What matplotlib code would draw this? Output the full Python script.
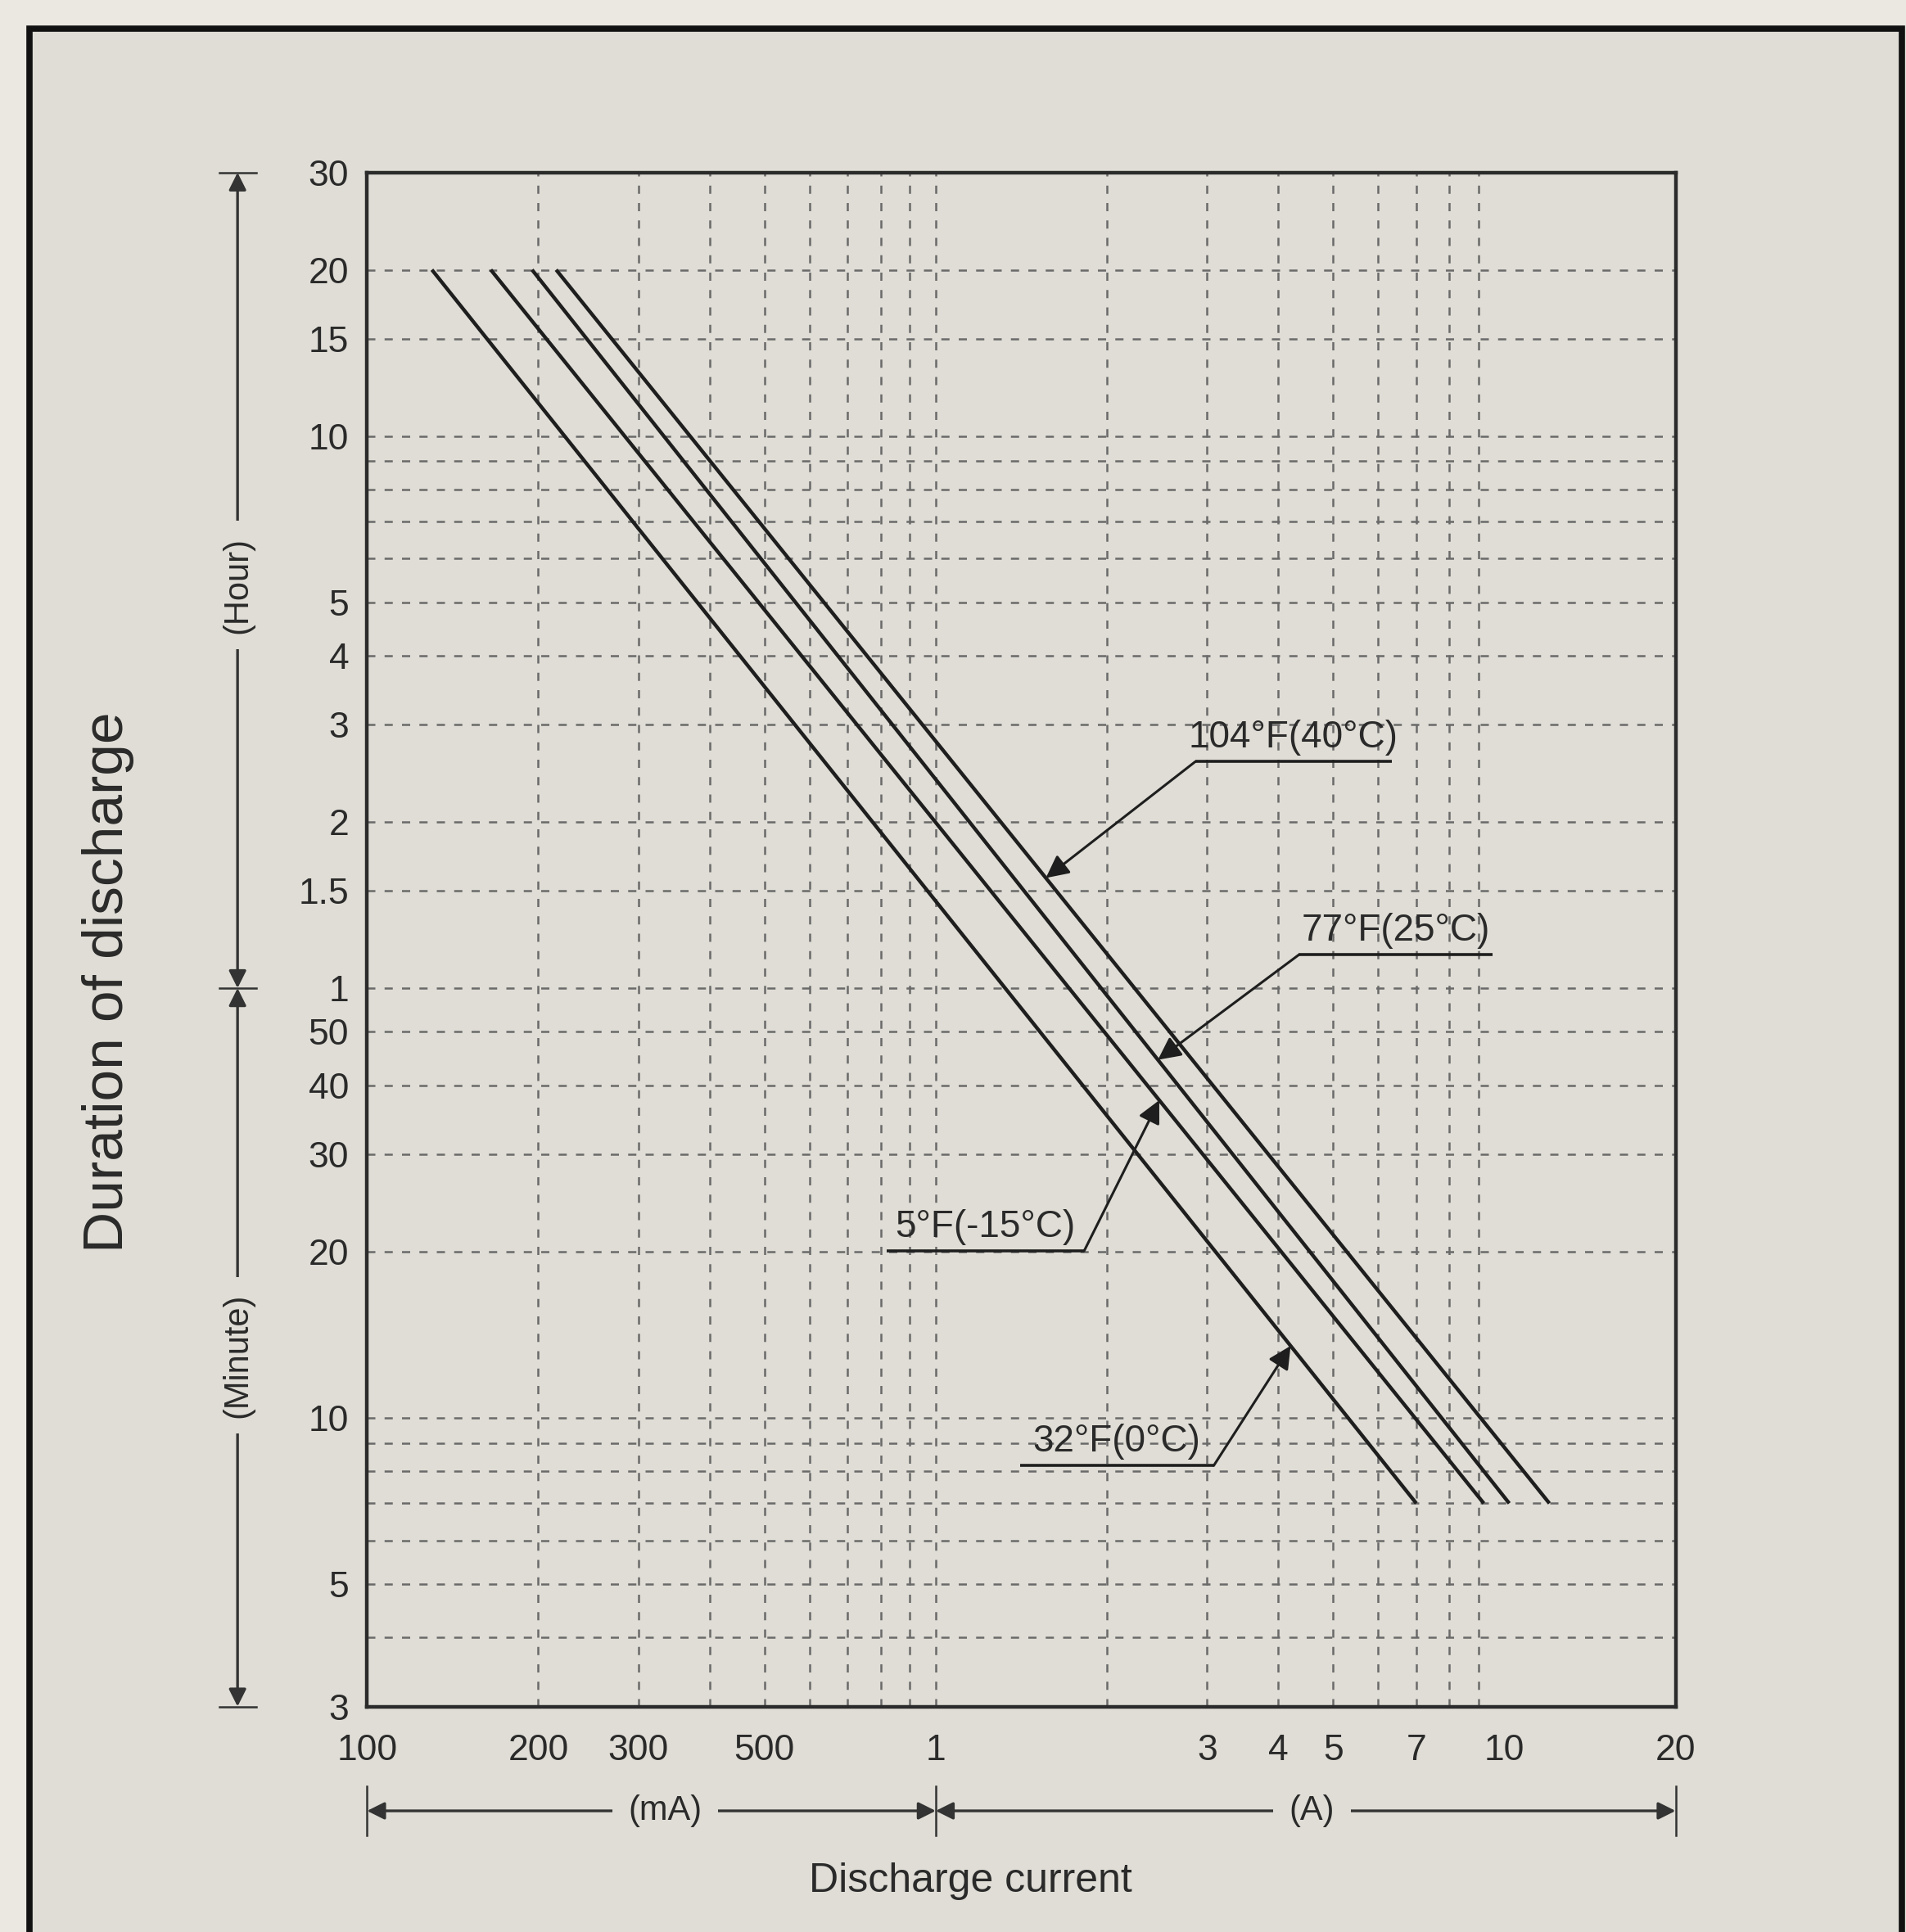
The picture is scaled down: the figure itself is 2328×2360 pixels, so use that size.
import numpy as np
import matplotlib
matplotlib.use("Agg")
import matplotlib.pyplot as plt
from matplotlib import font_manager
from matplotlib.ticker import FixedLocator, NullFormatter
from matplotlib.transforms import blended_transform_factory
from matplotlib.patches import Rectangle

# ---------------- data ----------------
series_labels = ["32°F(0°C)", "5°F(-15°C)", "77°F(25°C)", "104°F(40°C)"]
current_start_A = [0.130, 0.165, 0.195, 0.215]   # at 20 h
current_end_A = [7.0, 9.2, 10.2, 12.0]           # at 7 min
duration_start_min = [1200, 1200, 1200, 1200]
duration_end_min = [7, 7, 7, 7]

y_tick_values_min = [1800, 1200, 900, 600, 300, 240, 180, 120, 90, 60,
                     50, 40, 30, 20, 10, 5, 3]
y_tick_labels = ["30", "20", "15", "10", "5", "4", "3", "2", "1.5", "1",
                 "50", "40", "30", "20", "10", "5", "3"]
y_grid_min = [1200, 900, 600, 540, 480, 420, 360, 300, 240, 180, 120, 90,
              60, 50, 40, 30, 20, 10, 9, 8, 7, 6, 5, 4]

x_tick_values_A = [0.1, 0.2, 0.3, 0.5, 1, 3, 4, 5, 7, 10, 20]
x_tick_labels = ["100", "200", "300", "500", "1", "3", "4", "5", "7", "10", "20"]
x_grid_A = [0.2, 0.3, 0.4, 0.5, 0.6, 0.7, 0.8, 0.9, 1, 2, 3, 4, 5, 6, 7, 8, 9]

# annotation layout: duration (min) where each arrow touches its curve
annot_tip_min = [13.5, 37.6, 44.5, 95]

# ---------------- style ----------------
BG_IN = "#dfddd5"
BG_OUT = "#eae8e1"
INK = "#1e1e1e"
TXT = "#2a2a2a"
GRID = "#6a6a6a"

avail = {f.name for f in font_manager.fontManager.ttflist}
NARROW = "Liberation Sans Narrow" if "Liberation Sans Narrow" in avail else "Liberation Sans"
SANS = "Liberation Sans" if "Liberation Sans" in avail else "DejaVu Sans"
plt.rcParams["font.family"] = [SANS, "DejaVu Sans"]

fig = plt.figure(figsize=(23.28, 23.60), dpi=100, facecolor=BG_OUT)

# outer frame of the printed sheet
fig.patches.append(Rectangle((0.0155, -0.01), 0.9824, 0.9952, transform=fig.transFigure,
                             facecolor=BG_IN, edgecolor="#111111", lw=5.5, zorder=-10))

ax = fig.add_axes([0.1926, 0.1167, 0.6865, 0.7940])
ax.set_facecolor(BG_IN)
ax.set_xscale("log")
ax.set_yscale("log")
ax.set_xlim(0.1, 20)
ax.set_ylim(3, 1800)

# ticks & labels
ax.xaxis.set_major_locator(FixedLocator(x_tick_values_A))
ax.set_xticklabels(x_tick_labels)
ax.yaxis.set_major_locator(FixedLocator(y_tick_values_min))
ax.set_yticklabels(y_tick_labels)
ax.xaxis.set_minor_locator(FixedLocator(x_grid_A))
ax.yaxis.set_minor_locator(FixedLocator(y_grid_min))
ax.xaxis.set_minor_formatter(NullFormatter())
ax.yaxis.set_minor_formatter(NullFormatter())
ax.xaxis.remove_overlapping_locs = False
ax.yaxis.remove_overlapping_locs = False
ax.tick_params(which="both", length=0)
ax.tick_params(axis="x", which="major", pad=24, labelsize=32, labelcolor=TXT)
ax.tick_params(axis="y", which="major", pad=16, labelsize=32, labelcolor=TXT)
for lab in ax.get_xticklabels() + ax.get_yticklabels():
    lab.set_fontfamily([NARROW, "DejaVu Sans"])

ax.grid(False, which="major")
ax.grid(True, which="minor", color=GRID, lw=1.8, linestyle=(0, (4, 4.5)))
ax.set_axisbelow(True)

for sp in ax.spines.values():
    sp.set_linewidth(3.2)
    sp.set_color("#2b2b2b")

# curves
for xs, xe, ys, ye in zip(current_start_A, current_end_A, duration_start_min, duration_end_min):
    ax.plot([xs, xe], [ys, ye], color=INK, lw=3.2, solid_capstyle="butt", zorder=3)

# labelled arrows (layout in axes fraction: underline y, underline x0, x1, arrow side)
annot_layout = [
    (0.157, 0.499, 0.647, "right"),   # 32F
    (0.297, 0.397, 0.548, "right"),   # 5F
    (0.490, 0.712, 0.860, "left"),    # 77F
    (0.616, 0.633, 0.783, "left"),    # 104F
]

def x_on_curve(i, ymin):
    ly = np.log10([duration_end_min[i], duration_start_min[i]])
    lx = np.log10([current_end_A[i], current_start_A[i]])
    return 10 ** np.interp(np.log10(ymin), ly, lx)

for i, (uy, ux0, ux1, side) in enumerate(annot_layout):
    ax.plot([ux0, ux1], [uy, uy], transform=ax.transAxes, color=INK, lw=2.6,
            solid_capstyle="butt", zorder=4)
    sx = ux1 if side == "right" else ux0
    tip = (x_on_curve(i, annot_tip_min[i]), annot_tip_min[i])
    ax.annotate("", xy=tip, xycoords="data", xytext=(sx, uy), textcoords="axes fraction",
                arrowprops=dict(arrowstyle="-|>", color=INK, lw=2.2, mutation_scale=42,
                                shrinkA=0, shrinkB=0), zorder=4)
    ax.text((ux0 + ux1) / 2, uy + 0.004, series_labels[i], transform=ax.transAxes,
            ha="center", va="bottom", fontsize=33, color=TXT, zorder=4)

# left Hour / Minute bracket
bt = blended_transform_factory(ax.transAxes, ax.transData)
xa = -0.099
for y0, y1 in [(60, 1800), (3, 60)]:
    ax.annotate("", xy=(xa, y1), xycoords=bt, xytext=(xa, y0), textcoords=bt,
                arrowprops=dict(arrowstyle="<|-|>", color="#333333", lw=2.4,
                                mutation_scale=32, shrinkA=0, shrinkB=0),
                annotation_clip=False)
for yv in (1800, 60, 3):
    ax.plot([xa - 0.014, xa + 0.014], [yv, yv], transform=bt, color="#333333", lw=1.8,
            clip_on=False)
for txt, yf in [("(Hour)", 0.731), ("(Minute)", 0.229)]:
    ax.text(xa, yf, txt, transform=ax.transAxes, rotation=90, ha="center", va="center",
            fontsize=30, color=TXT, family=[NARROW, "DejaVu Sans"],
            bbox=dict(facecolor=BG_IN, edgecolor="none", pad=14))

# bottom mA / A bracket
bb = blended_transform_factory(ax.transData, ax.transAxes)
ya = -0.068
for x0, x1 in [(0.1, 1), (1, 20)]:
    ax.annotate("", xy=(x1, ya), xycoords=bb, xytext=(x0, ya), textcoords=bb,
                arrowprops=dict(arrowstyle="<|-|>", color="#333333", lw=2.4,
                                mutation_scale=32, shrinkA=0, shrinkB=0),
                annotation_clip=False)
for xv in (0.1, 1, 20):
    ax.plot([xv, xv], [ya - 0.016, ya + 0.016], transform=bb, color="#333333", lw=1.8,
            clip_on=False)
for txt, xf in [("(mA)", 0.228), ("(A)", 0.722)]:
    ax.text(xf, ya, txt, transform=ax.transAxes, ha="center", va="center",
            fontsize=30, color=TXT, family=[NARROW, "DejaVu Sans"],
            bbox=dict(facecolor=BG_IN, edgecolor="none", pad=14))

# axis titles
ax.text(-0.198, 0.472, "Duration of discharge", transform=ax.transAxes, rotation=90,
        ha="center", va="center", fontsize=50, color=TXT)
ax.text(0.461, -0.114, "Discharge current", transform=ax.transAxes,
        ha="center", va="center", fontsize=36, color=TXT)

fig.savefig("out.png", dpi=100, facecolor=fig.get_facecolor())
